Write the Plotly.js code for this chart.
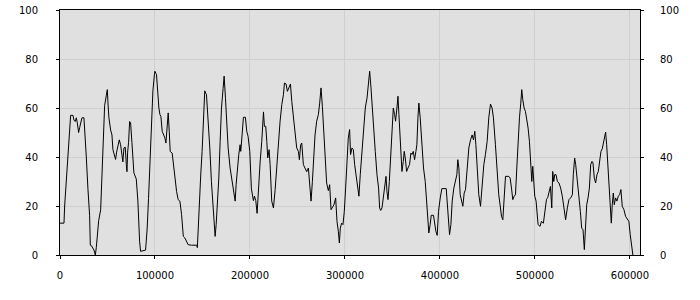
<!DOCTYPE html>
<html>
<head>
<meta charset="utf-8">
<script src="https://cdn.plot.ly/plotly-3.0.1.min.js"></script>
<style>html,body{margin:0;padding:0;background:#fff;}#chart{width:700px;height:300px;}</style>
</head>
<body>
<div id="chart"></div>
<script>
const xValues = [
0,4200,4900,6700,8400,10200,11200,13700,14700,16100,17200,18200,19600,20700,21700,23100,25200,25900,27700,29400,
31200,31900,32900,35800,37200,38200,39300,40700,42800,44200,45600,47000,48700,49800,50500,51500,53300,54700,55700,57500,
58500,59600,61000,62400,63800,65200,66200,67300,68700,69800,70500,71200,72200,73300,74300,75700,77800,80300,82000,83800,
84800,90100,91800,93200,94600,96000,97800,99500,
99900,101600,102700,104100,105200,106200,107600,109000,110400,111500,112500,113900,115000,116000,118100,120200,122700,124400,
126200,128000,129800,131400,133500,134900,138400,144000,144600,146100,148200,149600,151400,152400,154200,155900,157700,159400,
161200,162200,163300,164400,165800,167200,168600,170000,171700,172800,174200,175600,177000,179100,181200,183300,184400,185400,
186800,188200,189600,190300,191700,193100,195200,196600,198000,199800,201500,
203600,204700,206100,207500,208900,210700,212400,214200,215200,216600,217700,218700,220100,221200,222900,224700,226500,228200,
230000,231700,233500,235200,236300,238000,239400,241200,242600,244000,245700,247500,249200,251000,252000,253400,254500,256200,
258000,259700,261500,262900,264300,265700,267100,268500,270200,272000,273400,274800,276200,277600,279000,280700,282500,283900,
285300,286700,288400,290200,291600,293000,294100,295100,296500,297900,299300,300700,302100,303500,304900,
305900,307400,308800,310200,311600,313300,314700,316100,317900,319700,321400,323200,324900,326000,327400,328400,330200,331900,
333700,335400,336500,337600,339000,340400,341800,343200,344200,345300,346700,348100,349500,350900,352300,353300,354700,355800,
356800,358200,360000,361400,362400,363500,364900,366300,368000,369400,370500,371900,373300,374700,375700,376800,377800,379200,
381000,382700,384500,386200,387300,388300,389700,390800,393200,394300,395700,397100,398500,400300,402000,406600,
407300,408700,410100,411500,412900,414600,416400,417800,418800,419900,421300,422700,424100,425500,426900,428700,430400,432200,
433900,435300,436700,437800,439200,440900,442700,444400,446200,447900,449700,451400,453200,454900,456300,458400,460200,461900,
463700,464800,466200,467600,469000,472500,473900,475300,476700,478100,479500,480900,482300,483700,485100,486100,487200,488600,
490000,491400,492800,494200,495600,496700,497700,498800,499800,501200,502300,503300,505400,506800,508900,
510000,511000,512100,513500,514900,516300,517700,518700,519800,520800,522200,523600,525300,527100,528800,530600,532300,534100,
535800,537600,539400,540400,541800,542900,544300,546400,547800,549200,550600,552000,553100,554500,555900,557300,558700,560100,
561100,562500,563900,565300,566700,568100,569500,570900,572300,573400,574400,575500,576500,577900,579300,580400,581400,582500,
583500,584900,586300,587700,589100,590500,591900,593700,595400,597500,598900,600300,601700,603100
];
const yValues = [
13,13,20,31,43,54.5,57,57,55,54.5,56,54,50,52,54,56,56,50,40,27,
16,4,3.9,2,0,3,8,14,18.5,33,54,61,65,67.5,62,56,51,49,43,39.5,
39,42,45,47,45,40,38,43.7,44,37,34,42,46,54.5,54,46,33.5,31,22,5.6,
1.5,2,11,23,37,53,67,74,
75,73.6,66.8,60,57.3,56.6,50.5,49,47.8,45.7,53.2,58,50.5,42.3,41.6,34,26,22.6,
22,16.5,7.6,7,5.6,4.2,4,4,3,19,33,42.3,56,67,65.4,56,43.7,30,
20.5,13.7,7.6,12.4,20.5,31.4,46.4,60,68,73,64,53,43.7,35.5,30,26,22,28.7,
36.9,41,45,42.3,49,56.2,56.2,50.5,48.4,42.3,27,
22.2,24,22.2,17,27.3,38,46.4,58.4,52.5,52.5,46.4,39.6,43,36.9,22,19.2,26.7,36.9,
45,54.6,61.4,65.4,70.2,69.8,66.8,68.8,69.8,62.7,56,47.8,43.7,42.3,38.9,45,45.7,36.9,
35.5,34,35.5,30,22,30,41,49,54.6,57.3,62,68.2,60.7,50.5,41,29.4,26.3,28.7,
18.5,19.2,20.5,23.3,13.7,9.7,4.9,11,13,12.4,17.8,27.3,39.6,47.8,51.2,
41,43.7,43,36.9,32.8,27.3,24,32.8,41,51.8,60,64,69.5,75,68.2,61.4,51.8,42.3,
32.8,27.3,19.2,18.2,19.2,23.3,28.7,32.1,26,22.6,30,39.6,49,60,57.3,54.6,60,64.8,
57.3,46.4,34.1,38.2,42.3,39.6,34.1,35.5,36.9,41.6,41,42.3,38.9,42.3,45,56,62,56,
45,35.5,30,20.5,13.7,9,12.4,16.2,16.2,12.4,9.7,8,17.8,23.3,27.1,27.1,
23.3,17.8,8.3,12.4,22,27.3,30,32.8,38.9,35.5,24.6,22.6,19.9,25.3,26.7,35.5,43.7,47,
49,47,50.5,45,34.1,24.6,19.9,28.7,36.9,41,46.4,56,61.6,60,56,45,34.1,24.6,
19.2,15.8,14.4,22,32.1,32.1,31.4,27.3,22.6,24,24.6,35.5,46.4,56,62,67.5,63.4,60,
58.6,55.2,51.8,46.4,35.5,30,36.2,28.7,24,22,15.8,12.4,11.7,13.7,13,
16.5,19.9,22.6,23.5,25.3,28,19.2,34.1,30,32.8,32.8,30,29.4,27.3,24,19.2,14.4,19.2,
22.6,23.3,24.6,32.8,39.6,36.9,31.4,26,17.8,11,10.3,2.2,11,20.5,23.3,27.3,36.9,38.2,
37.6,31.4,29.4,32.8,34.1,39.6,42.3,43.4,45.7,48.4,50.2,45,38.2,24.6,15.1,13,20.5,25.3,
20.5,23.3,22,24,24.6,26.7,19.9,18.5,15.8,14.4,13.7,8.3,4.2,0
];
const yTicks = [0, 20, 40, 60, 80, 100];
const xTicks = [0, 100000, 200000, 300000, 400000, 500000, 600000];

const tickFont = {family: 'DejaVu Sans, sans-serif', size: 10, color: '#000'};

const traces = [
  {x: xValues, y: yValues, type: 'scatter', mode: 'lines',
   line: {color: '#000', width: 1}, hoverinfo: 'skip', showlegend: false},
  {x: xValues, y: yValues, type: 'scatter', mode: 'lines', yaxis: 'y2',
   line: {color: 'rgba(0,0,0,0)', width: 0}, hoverinfo: 'skip', showlegend: false}
];

const yCommon = {
  range: [0, 100], tickvals: yTicks, ticktext: yTicks.map(String),
  ticks: 'outside', ticklen: 3, tickcolor: '#000', tickfont: tickFont,
  showline: true, linecolor: '#000', linewidth: 1, zeroline: false,
  fixedrange: true
};

const layout = {
  width: 700, height: 300,
  margin: {l: 60, r: 60, t: 10, b: 45, pad: 0},
  paper_bgcolor: '#fff', plot_bgcolor: '#e0e0e0',
  showlegend: false,
  xaxis: {
    range: [0, 610600], tickvals: xTicks, ticktext: xTicks.map(String),
    ticks: 'outside', ticklen: 3, tickcolor: '#000', tickfont: tickFont,
    showgrid: true, gridcolor: '#cfcfcf', gridwidth: 1,
    showline: true, linecolor: '#000', linewidth: 1, mirror: true,
    zeroline: false, ticklabelstandoff: 8
  },
  yaxis: Object.assign({}, yCommon, {
    side: 'left', showgrid: true, gridcolor: '#cfcfcf', gridwidth: 1,
    mirror: true, ticklabelstandoff: 16
  }),
  yaxis2: Object.assign({}, yCommon, {
    side: 'right', overlaying: 'y', showgrid: false, ticklabelstandoff: 14
  })
};

Plotly.newPlot('chart', traces, layout, {staticPlot: true, displayModeBar: false});
</script>
</body>
</html>
